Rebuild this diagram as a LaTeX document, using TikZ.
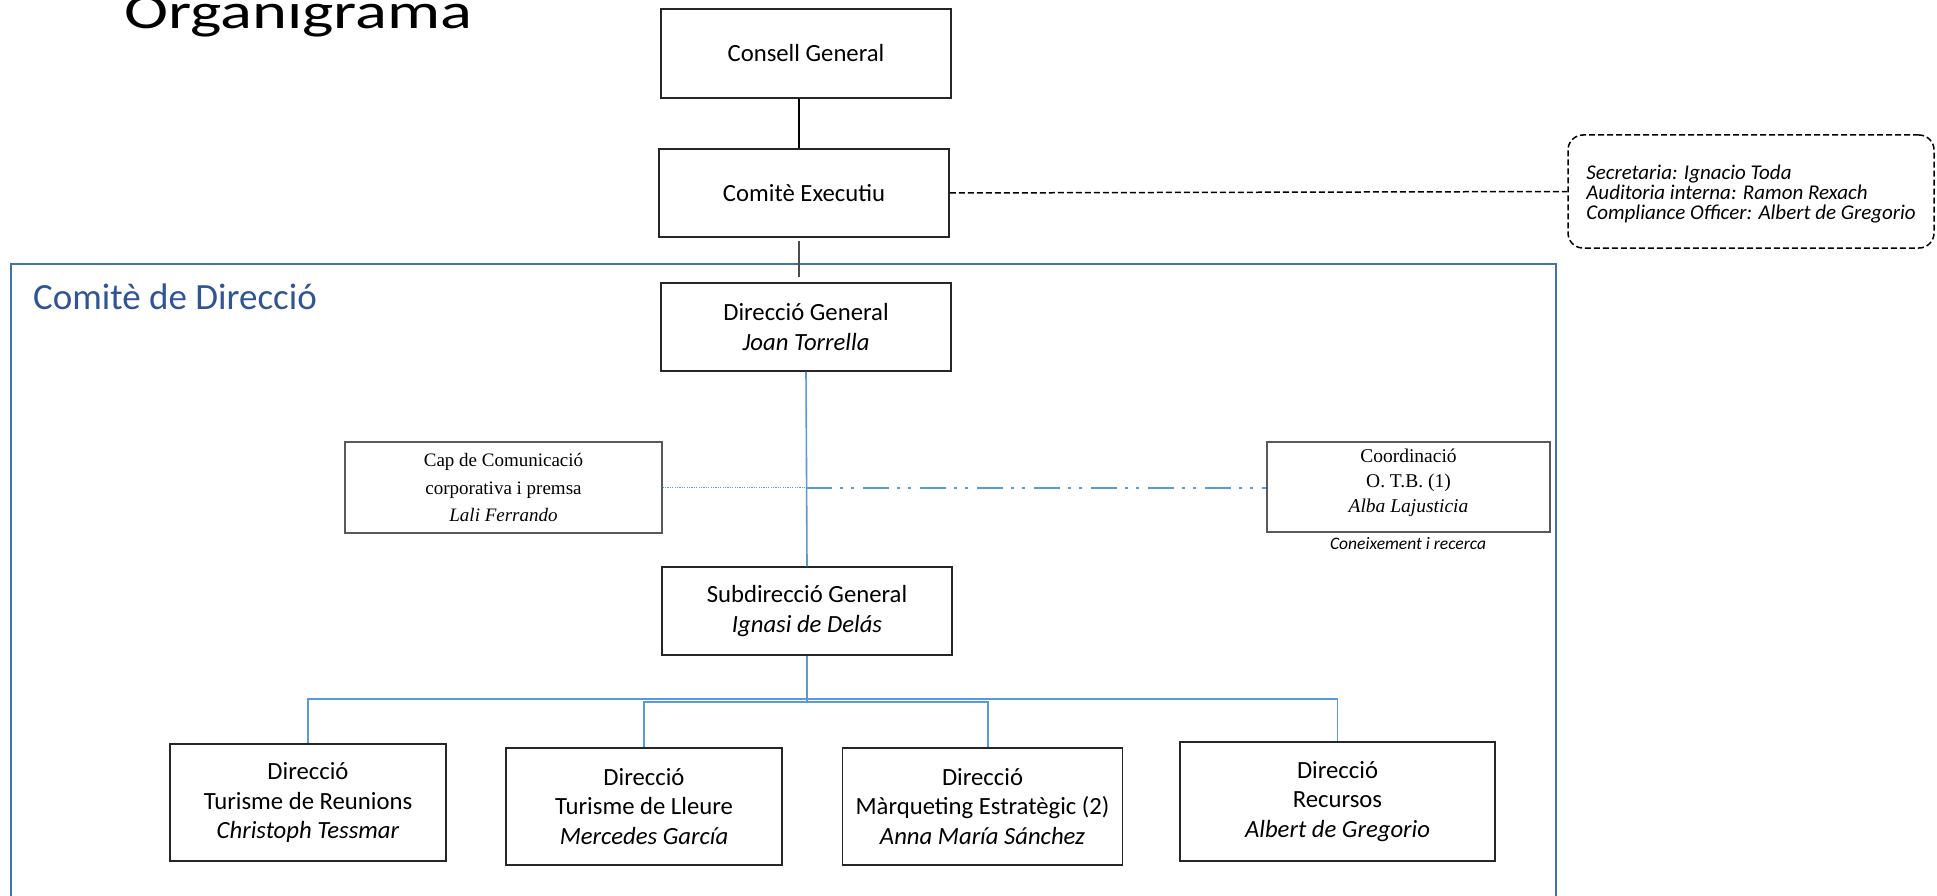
\documentclass[tikz,border=0pt]{standalone}
\usepackage{fontspec}
\setmainfont{Carlito}
\newfontfamily\tnr{Liberation Serif}
\usetikzlibrary{calc}
\definecolor{framecol}{RGB}{68,114,170}
\definecolor{titleblue}{RGB}{47,85,151}
\definecolor{lineblue}{RGB}{91,155,213}
\begin{document}
\begin{tikzpicture}[x=1pt,y=-1pt,
  orgbox/.style={draw=black!85, line width=1.5pt, inner sep=0pt, align=center, fill=white,
    font=\fontsize{24.7}{29.5}\selectfont},
  serifbox/.style={draw=black!65, line width=1.2pt, inner sep=0pt, fill=white},
  blueline/.style={draw=lineblue, line width=1.6pt},
  dashline/.style={draw=black, line width=1.5pt, dash pattern=on 6pt off 3pt},
]
\useasboundingbox (0,0) rectangle (1937,896);
\fill[white] (0,0) rectangle (1937,896);

% title
\node[anchor=base west, inner sep=0pt, font=\fontsize{50}{56}\selectfont] (title) at (124,29)
  {\scalebox{1.33}[1]{Organigrama}};

% frame
\draw[framecol, line width=2pt] (11,264) rectangle (1556,910);
\node[anchor=base west, inner sep=0pt, font=\fontsize{37}{44}\selectfont, text=titleblue] (cdir) at (33,309)
  {Comitè de Direcció};

% top boxes
\node[orgbox, minimum width=290pt, minimum height=89pt] (cg) at (806,53.5) {Consell General};
\node[orgbox, minimum width=290pt, minimum height=88pt] (ce) at (804,193) {Comitè Executiu};

\node[draw=black, line width=1.5pt, dash pattern=on 6pt off 3pt, rounded corners=15pt,
  minimum width=366pt, minimum height=113pt, inner sep=0pt] (sec) at (1751,191.5) {};
\node[inner sep=0pt, align=left, font=\fontsize{21}{20}\selectfont\itshape] (secT) at ([yshift=-3pt]sec.center)
  {Secretaria: Ignacio Toda\\Auditoria interna: Ramon Rexach\\Compliance Officer: Albert de Gregorio};

\node[orgbox, minimum width=290pt, minimum height=88pt] (dg) at (806,327)
  {Direcció General\\\textit{Joan Torrella}};

\node[serifbox, minimum width=317pt, minimum height=91pt] (cap) at (503.5,487.5) {};
\node[inner sep=0pt, align=center, font=\tnr\fontsize{19}{27.5}\selectfont] (capT) at (cap.center)
  {Cap de Comunicació\\corporativa i premsa\\\textit{Lali Ferrando}};
\node[serifbox, minimum width=283pt, minimum height=90pt] (coord) at (1408.5,487) {};
\node[inner sep=0pt, align=center, font=\tnr\fontsize{19.5}{25}\selectfont] (coordT) at ([yshift=4pt]coord.center)
  {Coordinació\\O. T.B. (1)\\\textit{Alba Lajusticia}};
\node[inner sep=0pt, font=\fontsize{17.5}{20}\selectfont\itshape] (con) at (1408,544) {Coneixement i recerca};

\node[orgbox, minimum width=290pt, minimum height=88pt] (sub) at (807,611)
  {Subdirecció General\\\textit{Ignasi de Delás}};

\node[orgbox, minimum width=276pt, minimum height=117pt] (b1) at (308,802.5)
  {Direcció\\Turisme de Reunions\\\textit{Christoph Tessmar}};
\node[orgbox, minimum width=276pt, minimum height=117pt] (b2) at (644,806.5)
  {Direcció\\Turisme de Lleure\\\textit{Mercedes García}};
\node[orgbox, minimum width=280pt, minimum height=117pt] (b3) at (982.5,806.5)
  {Direcció\\Màrqueting Estratègic (2)\\\textit{Anna María Sánchez}};
\node[orgbox, minimum width=315pt, minimum height=119pt] (b4) at (1337.5,801.5)
  {Direcció\\Recursos\\\textit{Albert de Gregorio}};

% connectors
\draw[black, line width=2pt] ([xshift=-7pt]cg.south) -- ([xshift=-5pt]ce.north);
\draw[black!70, line width=1.2pt, shorten <=3pt, shorten >=5pt] ([xshift=-5pt]ce.south) -- ([xshift=-7pt]dg.north);
\draw[dashline] (ce.east) -- (sec.west);

\draw[blueline] (dg.south) -- (sub.north);
\coordinate (bus1) at (807,699);
\coordinate (bus2) at (807,702);
\draw[blueline] (sub.south) -- (bus2);
\draw[blueline] (b1.north) |- (bus1) -| (b4.north);
\draw[blueline] (b2.north) |- (bus2) -| ([xshift=5.5pt]b3.north);

\coordinate (mid) at (dg.south |- cap.east);
\draw[lineblue, line width=1.2pt, dash pattern=on 1.2pt off 1.2pt] (cap.east) -- (mid);
\draw[lineblue, line width=2pt, dash pattern=on 26pt off 8pt on 3pt off 8pt on 3pt off 9pt] (mid) -- (mid -| coord.west);
\end{tikzpicture}
\end{document}
